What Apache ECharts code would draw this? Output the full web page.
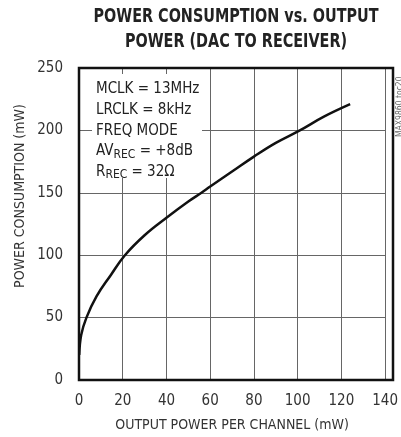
<!DOCTYPE html>
<html><head><meta charset="utf-8">
<script src="https://cdn.jsdelivr.net/npm/echarts@6/dist/echarts.min.js"></script>
<style>html,body{margin:0;padding:0;background:#fff}#c{width:401px;height:437px}</style>
</head><body><div id="c"></div>
<script>
const xValues = [0.1, 1, 3.4, 8, 14.5, 21, 30, 40, 50, 56, 60, 70, 80, 90, 101, 112, 124];
const yValues = [20, 36, 50, 67, 84, 100, 116, 130, 143, 150, 155, 167, 179, 190, 200, 211, 221];
const xTicks = [0, 20, 40, 60, 80, 100, 120, 140];
const yTicks = [0, 50, 100, 150, 200, 250];
const titleLines = ['POWER CONSUMPTION vs. OUTPUT', 'POWER (DAC TO RECEIVER)'];
const xName = 'OUTPUT POWER PER CHANNEL (mW)';
const yName = 'POWER CONSUMPTION (mW)';
const FONT = '"DejaVu Sans Condensed", "Liberation Sans Narrow", sans-serif';
const chart = echarts.init(document.getElementById('c'));
chart.setOption({
  animation: false,
  grid: { left: 79, right: 8, top: 68, bottom: 57 },
  xAxis: {
    type: 'value', min: 0, max: 140, interval: 20,
    name: xName, nameLocation: 'middle', nameGap: 38,
    nameTextStyle: { fontFamily: FONT, fontSize: 14, color: '#333' },
    axisLine: { show: false }, axisTick: { show: false },
    axisLabel: { fontFamily: FONT, fontSize: 15, color: '#333', margin: 14, formatter: v => xTicks.includes(v) ? String(v) : '' },
    splitLine: { show: true, lineStyle: { color: '#666', width: 1 } }
  },
  yAxis: {
    type: 'value', min: 0, max: 250, interval: 50,
    axisLine: { show: false }, axisTick: { show: false },
    axisLabel: { fontFamily: FONT, fontSize: 15, color: '#333', margin: 16, formatter: v => yTicks.includes(v) ? String(v) : '' },
    splitLine: { show: true, lineStyle: { color: '#666', width: 1 } }
  },
  series: [{
    type: 'line', data: xValues.map((x, i) => [x, yValues[i]]),
    smooth: 0.4, showSymbol: false, lineStyle: { color: '#111', width: 2.5 }, z: 3
  }],
  graphic: [
    { type: 'text', x: 236, y: 4, scaleX: 0.8, z: 6, style: {
        text: titleLines.join('\n'), textAlign: 'center', fontFamily: FONT, fontWeight: 'bold',
        fontSize: 20, lineHeight: 25, fill: '#222'
    } },
    { type: 'text', x: 20, y: 196, rotation: Math.PI / 2, z: 6, style: {
        text: yName, textAlign: 'center', textVerticalAlign: 'middle', fontFamily: FONT, fontSize: 14, fill: '#333'
    } },
    { type: 'rect', shape: { x: 79, y: 68, width: 314, height: 312 }, style: { fill: 'none', stroke: '#111', lineWidth: 2.5 }, z: 10 },
    { type: 'rect', shape: { x: 92, y: 74, width: 110, height: 104 }, style: { fill: '#fff' }, z: 5 },
    { type: 'text', x: 96, y: 79, z: 6, style: {
        text: 'MCLK = 13MHz\nLRCLK = 8kHz\nFREQ MODE\nAV{s|REC} = +8dB\nR{s|REC} = 32Ω',
        fontFamily: FONT, fontSize: 15, lineHeight: 20.7, fill: '#222',
        rich: { s: { fontFamily: FONT, fontSize: 12, padding: [6, 0, 0, 0], fill: '#222' } }
    } },
    { type: 'text', x: 395, y: 137, rotation: Math.PI / 2, z: 6, style: {
        text: 'MAX9860 toc20', textAlign: 'left', textVerticalAlign: 'top', fontFamily: FONT, fontSize: 8.5, fill: '#666'
    } }
  ]
});
</script></body></html>
